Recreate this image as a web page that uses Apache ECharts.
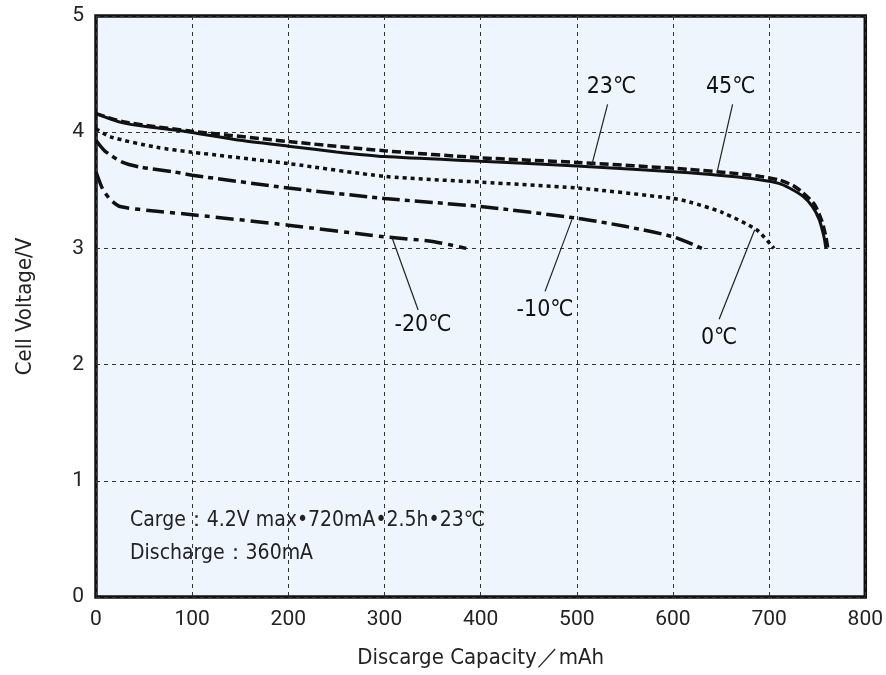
<!DOCTYPE html>
<html>
<head>
<meta charset="utf-8">
<script src="https://cdn.jsdelivr.net/npm/echarts@6/dist/echarts.min.js"></script>
<style>
html, body { margin: 0; padding: 0; background: #fff; }
#chart { width: 886px; height: 675px; }
</style>
</head>
<body>
<div id="chart"></div>
<script>
"use strict"

// [capacity mAh, voltage V]
const curve45 = [[0, 4.16], [28, 4.09], [60, 4.05], [98, 4.01], [200, 3.92], [300, 3.84], [400, 3.78], [500, 3.74], [617, 3.68], [659, 3.65], [690, 3.62], [710, 3.59], [725, 3.54], [735, 3.48], [747, 3.38], [755, 3.23], [759, 3.10], [761, 3.0]];
const curve23 = [[0, 4.16], [28, 4.08], [60, 4.04], [98, 4.0], [150, 3.93], [200, 3.88], [250, 3.83], [300, 3.79], [400, 3.75], [500, 3.71], [617, 3.65], [659, 3.62], [690, 3.59], [710, 3.56], [721, 3.52], [735, 3.45], [745, 3.36], [752, 3.25], [757, 3.10], [759, 3.0]];
const curve0 = [[0, 4.03], [15, 3.96], [63, 3.87], [98, 3.83], [200, 3.73], [300, 3.62], [400, 3.57], [500, 3.52], [600, 3.43], [617, 3.40], [651, 3.31], [687, 3.16], [702, 3.03], [705, 3.0]];
const curveM10 = [[0, 3.93], [9, 3.84], [28, 3.74], [46, 3.70], [80, 3.66], [100, 3.63], [200, 3.52], [300, 3.43], [400, 3.36], [500, 3.26], [550, 3.19], [600, 3.10], [630, 3.0]];
const curveM20 = [[0, 3.66], [7, 3.51], [15, 3.42], [25, 3.36], [63, 3.32], [100, 3.29], [200, 3.20], [300, 3.10], [350, 3.06], [385, 3.0]];

const seriesNames = ["45℃", "23℃", "0℃", "-10℃", "-20℃"];
// label centre and leader line [from curve, to label] in data coords
const labelPos = [[660, 4.39], [536, 4.39], [648, 2.23], [467, 2.47], [340, 2.34]];
const leaderFrom = [[646, 3.66], [515, 3.70], [685, 3.16], [495, 3.25], [308, 3.09]];
const leaderTo = [[662, 4.24], [532, 4.24], [648, 2.39], [467, 2.63], [335, 2.47]];

const xTicks = [0, 100, 200, 300, 400, 500, 600, 700, 800];
const yTicks = [0, 1, 2, 3, 4, 5];

const noteLines = ["Carge：4.2V max•720mA•2.5h•23℃", "Discharge：360mA"];

const FONT = "'Liberation Sans Narrow', 'DejaVu Sans Condensed', Roboto, sans-serif";
const dashStyles = [[9, 4], "solid", [4, 4], [18, 5, 5, 5], [18, 6, 5, 6]];
const curves = [curve45, curve23, curve0, curveM10, curveM20];

const gridLine = { show: true, lineStyle: { color: "#333", width: 1, type: [4, 4] } };

const series = curves.map((data, i) => ({
    name: seriesNames[i],
    type: "line",
    data: data,
    smooth: 0.25,
    showSymbol: false,
    lineStyle: { color: "#111", width: i === 1 ? 3 : 3.5, type: dashStyles[i] },
    markLine: {
        silent: true,
        symbol: "none",
        label: { show: false },
        lineStyle: { color: "#222", width: 1.2, type: "solid" },
        data: [[{ coord: leaderFrom[i] }, { coord: leaderTo[i] }]]
    },
    markPoint: {
        silent: true,
        symbol: "circle",
        symbolSize: 0,
        label: { show: true, position: "inside", formatter: "{b}", color: "#111", fontSize: 23, fontFamily: FONT },
        data: [{ name: seriesNames[i], coord: labelPos[i] }]
    }
}));

const myChart = echarts.init(document.getElementById("chart"), null, { renderer: "canvas" });
myChart.setOption({
    animation: false,
    backgroundColor: "#fff",
    grid: { left: 96, right: 20, top: 16, bottom: 78, show: true, backgroundColor: "#EEF5FC", borderColor: "#111", borderWidth: 3.5 },
    xAxis: {
        type: "value",
        min: xTicks[0], max: xTicks[xTicks.length - 1], interval: 100,
        name: "Discarge Capacity／mAh",
        nameLocation: "middle",
        nameGap: 50,
        nameTextStyle: { fontSize: 22, color: "#222", fontFamily: FONT },
        axisLine: { show: false },
        axisTick: { show: false },
        axisLabel: { fontSize: 21, color: "#222", fontFamily: "Roboto", margin: 12 },
        splitLine: gridLine
    },
    yAxis: {
        type: "value",
        min: yTicks[0], max: yTicks[yTicks.length - 1], interval: 1,
        name: "Cell Voltage/V",
        nameLocation: "middle",
        nameGap: 60,
        nameTextStyle: { fontSize: 22, color: "#222", fontFamily: FONT },
        axisLine: { show: false },
        axisTick: { show: false },
        axisLabel: { fontSize: 21, color: "#222", fontFamily: "Roboto", margin: 12 },
        splitLine: gridLine
    },
    graphic: noteLines.map((t, i) => ({
        type: "text",
        left: 130,
        top: 510 + i * 33,
        style: { text: t, fontSize: 21, fill: "#222", fontFamily: FONT }
    })),
    series: series
});
</script>
</body>
</html>
